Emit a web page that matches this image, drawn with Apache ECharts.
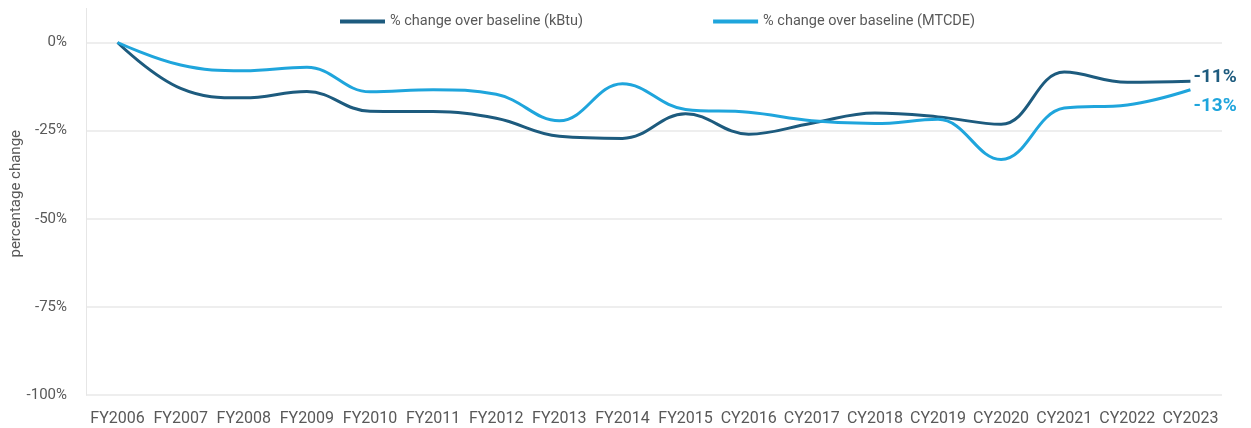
<!DOCTYPE html>
<html>
<head>
<meta charset="utf-8">
<script src="https://cdn.jsdelivr.net/npm/echarts@6/dist/echarts.min.js"></script>
<style>
html,body{margin:0;padding:0;background:#fff;}
#c{width:1251px;height:428px;}
</style>
</head>
<body>
<div id="c"></div>
<script>
const categories = ['FY2006','FY2007','FY2008','FY2009','FY2010','FY2011','FY2012','FY2013','FY2014','FY2015','CY2016','CY2017','CY2018','CY2019','CY2020','CY2021','CY2022','CY2023'];
const kbtu = [0, -13.0, -15.7, -13.9, -19.5, -19.6, -21.5, -26.6, -27.2, -20.2, -26.0, -22.9, -20.0, -21.1, -23.2, -8.4, -11.3, -11.0];
const mtcde = [0, -6.4, -8.0, -7.0, -14.0, -13.4, -14.7, -22.2, -11.7, -19.0, -19.8, -22.2, -23.0, -21.8, -33.2, -18.6, -17.7, -13.4];
const yTicks = [0, -25, -50, -75, -100];
const seriesNames = ['% change over baseline (kBtu)', '% change over baseline (MTCDE)'];

const darkC = '#1d5b7e';
const lightC = '#1fa5dc';
const font = 'Roboto';

const chart = echarts.init(document.getElementById('c'));
const gridLeft = 86, gridTop = 42.5, gridRight = 29, gridBottom = 33;
chart.setOption({
  animation: false,
  textStyle: {fontFamily: font},
  legend: {
    top: 9,
    left: 335,
    itemGap: 130,
    itemWidth: 45,
    itemHeight: 4,
    icon: 'rect',
    textStyle: {color: '#595959', fontSize: 14.5, fontFamily: font},
    data: seriesNames
  },
  grid: {left: gridLeft, right: gridRight, top: gridTop, bottom: gridBottom, containLabel: false, outerBoundsMode: 'none'},
  xAxis: {
    type: 'category',
    data: categories,
    boundaryGap: true,
    axisLine: {show: false},
    axisTick: {show: false},
    axisLabel: {color: '#595959', fontSize: 16, margin: 16, interval: 0}
  },
  yAxis: {
    type: 'value',
    min: -100, max: 0, interval: 25,
    name: 'percentage change',
    nameLocation: 'middle',
    nameGap: 62,
    nameMoveOverlap: false,
    nameTextStyle: {color: '#595959', fontSize: 15, padding: [0, 0, 0, 50]},
    axisLine: {show: true, lineStyle: {color: '#e6e6e6', width: 1}},
    axisTick: {show: false},
    splitLine: {lineStyle: {color: '#e8e8e8', width: 1.5}},
    axisLabel: {color: '#595959', fontSize: 15, margin: 19, formatter: v => v + '%'}
  },
  graphic: [{
    type: 'line', silent: true,
    shape: {x1: gridLeft + 0.5, y1: 8, x2: gridLeft + 0.5, y2: gridTop},
    style: {stroke: '#e6e6e6', lineWidth: 1}
  }],
  series: [
    {
      name: seriesNames[0], type: 'line', data: kbtu, smooth: 0.4,
      symbol: 'none', lineStyle: {color: darkC, width: 3}, itemStyle: {color: darkC},
      endLabel: {show: true, formatter: p => Math.round(p.value) + '%', color: darkC, fontSize: 19, fontWeight: 'bold', distance: 3, offset: [0, -4]}
    },
    {
      name: seriesNames[1], type: 'line', data: mtcde, smooth: 0.4,
      symbol: 'none', lineStyle: {color: lightC, width: 3}, itemStyle: {color: lightC},
      endLabel: {show: true, formatter: p => Math.round(p.value) + '%', color: lightC, fontSize: 19, fontWeight: 'bold', distance: 3, offset: [0, 17]}
    }
  ]
});
</script>
</body>
</html>
